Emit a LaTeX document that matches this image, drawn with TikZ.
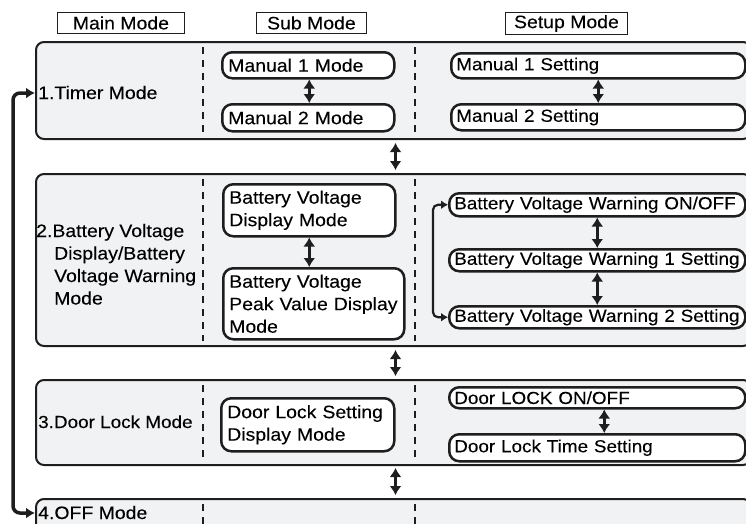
\documentclass[tikz,border=0pt]{standalone}
\usepackage{fontspec}
\setmainfont[FakeStretch=1.08,FakeBold=0.12]{Liberation Sans}
\usetikzlibrary{arrows.meta}
\definecolor{bandgray}{RGB}{241,242,244}
\definecolor{ink}{RGB}{30,30,30}
\tikzset{
  band/.style={draw=ink, line width=2pt, fill=bandgray, rounded corners=8pt,
    anchor=north west, inner sep=0pt},
  hdr/.style={draw=ink, line width=0.9pt, anchor=north west, inner sep=0pt,
    font=\fontsize{18}{22}\selectfont},
  subbox/.style={draw=ink, line width=2.5pt, fill=white, rounded corners=10pt,
    anchor=north west, align=left, inner xsep=6pt, inner ysep=0pt},
  setbox/.style={subbox, inner xsep=5pt, font=\fontsize{17.5}{22}\selectfont},
  lbl/.style={anchor=base west, inner sep=0pt, align=left},
  dbl/.style={{Latex[length=9pt,width=12pt]}-{Latex[length=9pt,width=12pt]},
    line width=3.5pt, draw=ink},
  brk/.style={{Latex[length=7pt,width=9pt]}-{Latex[length=7pt,width=9pt]},
    line width=2.2pt, draw=ink, rounded corners=5pt},
  loopline/.style={{Latex[length=9pt,width=11pt]}-{Latex[length=9pt,width=11pt]},
    line width=3.5pt, draw=ink, rounded corners=7pt},
  divider/.style={draw=ink, line width=2.2pt, dash pattern=on 7pt off 6pt},
}
\begin{document}
\begin{tikzpicture}[x=1pt, y=-1pt, font=\fontsize{18}{22.5}\selectfont]
\useasboundingbox (0,0) rectangle (746,523);
\clip (0,0) rectangle (746,523);

% headers
\node[hdr, minimum width=127pt, minimum height=21pt] (hmain) at (57,12) {Main Mode};
\node[hdr, minimum width=110pt, minimum height=21pt] (hsub) at (256,12) {Sub Mode};
\node[hdr, minimum width=122pt, minimum height=22pt] (hset) at (505,12) {Setup Mode};

% bands
\node[band, minimum width=715pt, minimum height=97pt] (b1) at (35,41) {};
\node[band, minimum width=715pt, minimum height=172pt] (b2) at (35,173) {};
\node[band, minimum width=715pt, minimum height=85pt] (b3) at (35,379) {};
\node[band, minimum width=715pt, minimum height=45pt] (b4) at (35,498) {};

% dividers
\foreach \b in {b1,b2,b3}{
  \draw[divider] ([xshift=168pt,yshift=-6pt]\b.north west) -- ([xshift=168pt,yshift=6pt]\b.south west);
  \draw[divider] ([xshift=380pt,yshift=-6pt]\b.north west) -- ([xshift=380pt,yshift=6pt]\b.south west);
}
\draw[divider] ([xshift=168pt,yshift=-6pt]b4.north west) -- ++(0,40);
\draw[divider] ([xshift=380pt,yshift=-6pt]b4.north west) -- ++(0,40);

% main labels
\node[lbl] (l1) at (38,99) {1.Timer Mode};
\node[lbl] (l2) at (36,304.5) {2.Battery Voltage\\\hspace*{18pt}Display/Battery\\\hspace*{18pt}Voltage Warning\\\hspace*{18pt}Mode};
\node[lbl, font=\fontsize{17.5}{22}\selectfont] (l3) at (38,428) {3.Door Lock Mode};
\node[lbl] (l4) at (38,519) {4.OFF Mode};

% band 1
\node[subbox, text width=160pt, minimum height=26pt] (m1) at (221,51) {Manual 1 Mode};
\node[subbox, text width=160pt, minimum height=27pt] (m2) at (221,103) {Manual 2 Mode};
\draw[dbl] ([xshift=1pt]m1.south) -- ([xshift=1pt]m2.north);
\node[setbox, text width=284pt, minimum height=25pt] (s1) at (450,52) {Manual 1 Setting};
\node[setbox, text width=284pt, minimum height=26pt] (s2) at (450,103) {Manual 2 Setting};
\draw[dbl] (s1.south) -- (s2.north);

% band 2
\node[subbox, text width=160pt, minimum height=52pt] (bvd) at (222,183) {Battery Voltage\\Display Mode};
\node[subbox, text width=169pt, minimum height=71pt] (bvp) at (222,267) {Battery Voltage\\Peak Value Display\\Mode};
\draw[dbl] (bvd.south) -- ([xshift=-4.5pt]bvp.north);
\node[setbox, text width=286pt, minimum height=23pt] (w0) at (448,192) {Battery Voltage Warning ON/OFF};
\node[setbox, text width=286pt, minimum height=22pt] (w1) at (448,248) {Battery Voltage Warning 1 Setting};
\node[setbox, text width=286pt, minimum height=22pt] (w2) at (448,305) {Battery Voltage Warning 2 Setting};
\draw[dbl] (w0.south) -- (w1.north);
\draw[dbl] (w1.south) -- (w2.north);
\draw[brk] (w0.west) -- ++(-15,0) |- (w2.west);

% band 3
\node[subbox, text width=161pt, minimum height=53pt] (dls) at (220,397) {Door Lock Setting\\Display Mode};
\node[setbox, text width=286pt, minimum height=21pt] (d0) at (448,386) {Door LOCK ON/OFF};
\node[setbox, text width=286pt, minimum height=27pt] (d1) at (448,433) {Door Lock Time Setting};
\draw[dbl] ([xshift=7pt]d0.south) -- ([xshift=7pt]d1.north);

% between bands
\draw[dbl] ([xshift=2pt,yshift=-3pt]b1.south) -- ([xshift=2pt,yshift=3pt]b2.north);
\draw[dbl] ([xshift=2pt,yshift=-3pt]b2.south) -- ([xshift=2pt,yshift=3pt]b3.north);
\draw[dbl] ([xshift=2pt,yshift=-2pt]b3.south) -- ([xshift=2pt,yshift=3pt]b4.north);

% loop
\draw[loopline] ([yshift=-52pt]b1.north west) -- ++(-22,0) |- ([yshift=-15pt]b4.north west);
\end{tikzpicture}
\end{document}
